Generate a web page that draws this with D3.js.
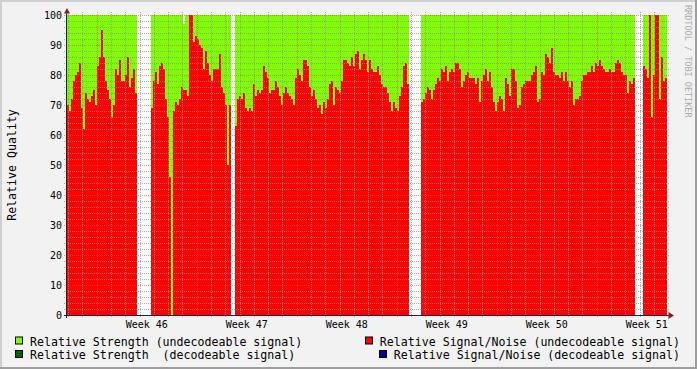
<!DOCTYPE html>
<html>
<head>
<meta charset="utf-8">
<script src="https://cdn.jsdelivr.net/npm/d3@7"></script>
<style>
body { margin: 0; background: #f2f2f2; }
svg { display: block; }
text { font-family: "DejaVu Sans Mono", monospace; white-space: pre; }
</style>
</head>
<body>
<svg id="chart"></svg>
<script>
const W = 697, H = 369
const DAY = 86400000

// 42 days shown, window opens ~2 days before monday of week 46
const start = new Date(Date.UTC(2008, 10, 10) - 2.08 * DAY)
const end = new Date(+start + 42 * DAY)

// relative signal/noise (undecodeable), one value per slot, null = no data
const snr = [
    70, 68, 72, 78, 80, 81, 84, 69, 62, 74,
    72, 71, 73, 75, 70, 83, 86, 95, 86, 78,
    75, 72, 66, 70, 82, 80, 85, 78, 78, 80,
    86, 76, 79, 82, 74, null, null, null, null, null,
    null, null, 69, 78, 81, 77, 83, 84, 82, 72,
    66, 46, 0, 68, 71, 70, 72, 76, 75, 75,
    73, 100, 100, 91, 93, 92, 90, 89, 82, 88,
    84, 80, 78, 82, 82, 82, 87, 76, 74, 70,
    50, 70, null, null, 63, 72, 73, 72, 74, 69,
    68, 69, 68, 77, 73, 75, 74, 75, 83, 81,
    79, 74, 75, 75, 78, 76, 73, 70, 74, 76,
    74, 73, 72, 70, 79, 82, 80, 78, 85, 85,
    83, 76, 73, 75, 72, 69, 70, 67, 71, 69,
    72, 77, 78, 70, 76, 75, 74, 78, 85, 85,
    84, 83, 86, 83, 87, 88, 82, 85, 87, 85,
    81, 85, 82, 81, 81, 83, 80, 77, 76, 76,
    74, 71, 68, 71, 69, 68, 73, 76, 83, 84,
    77, null, null, null, null, null, null, 71, 72, 74,
    76, 75, 72, 75, 77, 79, 78, 82, 81, 83,
    78, 81, 82, 81, 84, 84, 82, 76, 78, 80,
    81, 79, 79, 79, 77, 79, 71, 78, 80, 82,
    78, 81, 76, 71, 68, 71, 73, 72, 68, 79,
    77, 73, 82, 82, 78, 69, 70, 76, 77, 78,
    78, 78, 80, 81, 83, 71, 72, 81, 80, 87,
    86, 84, 89, 81, 80, 80, 79, 81, 78, 81,
    78, 76, 78, 70, 72, 72, 73, 78, 80, 80,
    81, 81, 83, 81, 84, 83, 85, 83, 82, 81,
    81, 82, 81, 81, 84, 85, 84, 81, 80, 80,
    74, 78, 77, 79, null, null, null, null, 83, 82,
    79, 100, 66, 80, 100, 100, 72, 86, 78, 79
]

// relative strength (undecodeable), same slots
const strength = [
    100, 100, 100, 100, 100, 100, 100, 100, 100, 100,
    100, 100, 100, 100, 100, 100, 100, 100, 100, 100,
    100, 100, 100, 100, 100, 100, 100, 100, 100, 100,
    100, 100, 100, 100, 100, null, null, null, null, null,
    null, null, 100, 100, 100, 100, 100, 100, 100, 100,
    100, 100, 100, 100, 100, 100, 100, 100, 97, 100,
    100, 100, 100, 100, 100, 100, 100, 100, 100, 100,
    100, 100, 100, 100, 100, 100, 100, 100, 100, 100,
    100, 100, null, null, 100, 100, 100, 100, 100, 100,
    100, 100, 100, 100, 100, 100, 100, 100, 100, 100,
    100, 100, 100, 100, 100, 100, 100, 100, 100, 100,
    100, 100, 100, 100, 100, 100, 100, 100, 100, 100,
    100, 100, 100, 100, 100, 100, 100, 100, 100, 100,
    100, 100, 100, 100, 100, 100, 100, 100, 100, 100,
    100, 100, 100, 100, 100, 100, 100, 100, 100, 100,
    100, 100, 100, 100, 100, 100, 100, 100, 100, 100,
    100, 100, 100, 100, 100, 100, 100, 100, 100, 100,
    100, null, null, null, null, null, null, 100, 100, 100,
    100, 100, 100, 100, 100, 100, 100, 100, 100, 100,
    100, 100, 100, 100, 100, 100, 100, 100, 100, 100,
    100, 100, 100, 100, 100, 100, 100, 100, 100, 100,
    100, 100, 100, 100, 100, 100, 100, 100, 100, 100,
    100, 100, 100, 100, 100, 100, 100, 100, 100, 100,
    100, 100, 100, 100, 100, 100, 100, 100, 100, 100,
    100, 100, 100, 100, 100, 100, 100, 100, 100, 100,
    100, 100, 100, 100, 100, 100, 100, 100, 100, 100,
    100, 100, 100, 100, 100, 100, 100, 100, 100, 100,
    100, 100, 100, 100, 100, 100, 100, 100, 100, 100,
    100, 100, 100, 100, null, null, null, null, 100, 100,
    100, 100, 100, 100, 100, 100, 100, 100, 100, 100
]

const yTicks = [0, 10, 20, 30, 40, 50, 60, 70, 80, 90, 100]
const legendLeft = ['Relative Strength (undecodeable signal)', 'Relative Strength  (decodeable signal)']
const legendRight = ['Relative Signal/Noise (undecodeable signal)', 'Relative Signal/Noise (decodeable signal)']
const colorsLeft = ['#80ff00', '#006400']
const colorsRight = ['#ff0000', '#00008b']

const svg = d3.select('#chart').attr('width', W).attr('height', H)

// frame
svg.append('rect').attr('width', W).attr('height', H).attr('fill', '#f2f2f2')
svg.append('path').attr('d', `M0 0H${W}V2H2V${H}H0Z`).attr('fill', '#cfcfcf')
svg.append('path').attr('d', `M${W} ${H}H0V${H - 2}H${W - 2}V0H${W}Z`).attr('fill', '#9e9e9e')

const x = d3.scaleUtc().domain([start, end]).range([67, 667])
const y = d3.scaleLinear().domain([0, 100]).range([315, 15])

svg.append('rect')
    .attr('x', 67).attr('y', 15)
    .attr('width', 600).attr('height', 300)
    .attr('fill', 'white')

const step = (end - start) / snr.length
const t = i => new Date(+start + i * step)

const drawArea = (values, color) => {
    svg.append('g')
        .attr('shape-rendering', 'crispEdges')
        .selectAll('rect')
        .data(values.map((v, i) => ({v, i})).filter(d => d.v !== null))
        .join('rect')
        .attr('x', d => x(t(d.i)))
        .attr('width', d => x(t(d.i + 1)) - x(t(d.i)))
        .attr('y', d => y(d.v))
        .attr('height', d => y(0) - y(d.v))
        .attr('fill', color)
}
drawArea(strength, '#80ff00')
drawArea(snr, '#ff0000')

// grid, dotted, on top of the data like rrdtool does
const grid = svg.append('g').attr('shape-rendering', 'crispEdges').attr('stroke-dasharray', '1,1')
const minorY = d3.range(0, 101, 2).filter(v => v % 10 !== 0)
grid.selectAll('.hmin').data(minorY).join('line')
    .attr('x1', 64).attr('x2', 670)
    .attr('y1', d => y(d) + 0.5).attr('y2', d => y(d) + 0.5)
    .attr('stroke', 'rgba(143,143,143,0.75)')
grid.selectAll('.hmaj').data(yTicks.filter(v => v > 0)).join('line')
    .attr('x1', 64).attr('x2', 670)
    .attr('y1', d => y(d) + 0.5).attr('y2', d => y(d) + 0.5)
    .attr('stroke', 'rgba(222,79,79,0.6)')

const mondays = d3.utcMonday.range(start, end)
const days = d3.utcDay.range(start, end).filter(d => d.getUTCDay() !== 1)
grid.selectAll('.vmin').data(days).join('line')
    .attr('x1', d => Math.round(x(d)) + 0.5).attr('x2', d => Math.round(x(d)) + 0.5)
    .attr('y1', 12).attr('y2', 318)
    .attr('stroke', 'rgba(143,143,143,0.75)')
grid.selectAll('.vmaj').data(mondays).join('line')
    .attr('x1', d => Math.round(x(d)) + 0.5).attr('x2', d => Math.round(x(d)) + 0.5)
    .attr('y1', 12).attr('y2', 318)
    .attr('stroke', 'rgba(222,79,79,0.6)')

// axes
svg.append('line').attr('x1', 64).attr('x2', 670).attr('y1', 315.5).attr('y2', 315.5)
    .attr('stroke', '#23234a').attr('shape-rendering', 'crispEdges')
svg.append('line').attr('x1', 66.5).attr('x2', 66.5).attr('y1', 11).attr('y2', 318)
    .attr('stroke', '#1f1f1f').attr('shape-rendering', 'crispEdges')
svg.append('path').attr('d', 'M64 13.5L70 13.5L67 8Z').attr('fill', '#7f1f1f')
svg.append('path').attr('d', 'M668.5 312L668.5 319L674 315.5Z').attr('fill', '#7f1f1f')

// labels
const fmt = d3.utcFormat('Week %V')
const weekMids = mondays.map(d => new Date(+d + 3.5 * DAY)).filter(d => d < end)
svg.append('g').selectAll('text').data(weekMids).join('text')
    .attr('x', d => x(d)).attr('y', 328)
    .attr('text-anchor', 'middle')
    .attr('font-size', 10)
    .text(d => fmt(new Date(+d - 3.5 * DAY)))

svg.append('g').selectAll('text').data(yTicks).join('text')
    .attr('x', 62).attr('y', d => y(d) + 4)
    .attr('text-anchor', 'end')
    .attr('font-size', 10)
    .text(d => d)

svg.append('text')
    .attr('transform', 'translate(12 165) rotate(-90)')
    .attr('text-anchor', 'middle')
    .attr('dominant-baseline', 'central')
    .attr('font-size', 11.6)
    .text('Relative Quality')

svg.append('text')
    .attr('transform', 'translate(688 5) rotate(90)')
    .attr('dominant-baseline', 'central')
    .attr('font-size', 8.5)
    .attr('fill', '#aaaaaa')
    .text('RRDTOOL / TOBI OETIKER')

// legend
const rowY = [341.5, 355]
legendLeft.forEach((label, i) => {
    svg.append('rect')
        .attr('x', 15.5).attr('y', rowY[i] - 4.5)
        .attr('width', 7).attr('height', 7)
        .attr('fill', colorsLeft[i]).attr('stroke', 'black')
    svg.append('text')
        .attr('x', 30).attr('y', rowY[i])
        .attr('dominant-baseline', 'central')
        .attr('font-size', 11.6)
        .text(label)
})
legendRight.forEach((label, i) => {
    const txt = svg.append('text')
        .attr('x', 680).attr('y', rowY[i])
        .attr('text-anchor', 'end')
        .attr('dominant-baseline', 'central')
        .attr('font-size', 11.6)
        .text(label)
    const w = txt.node().getComputedTextLength()
    svg.append('rect')
        .attr('x', Math.round(680 - w - 15) + 0.5).attr('y', rowY[i] - 4.5)
        .attr('width', 7).attr('height', 7)
        .attr('fill', colorsRight[i]).attr('stroke', 'black')
})
</script>
</body>
</html>
